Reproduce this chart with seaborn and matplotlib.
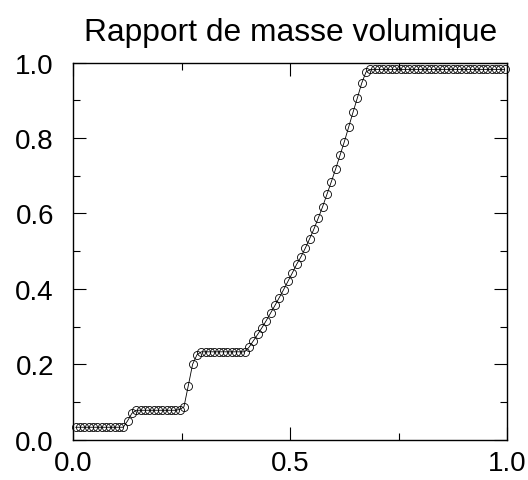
import matplotlib
matplotlib.use("Agg")
import matplotlib.pyplot as plt
import seaborn as sns
import numpy as np
import pandas as pd
from matplotlib.ticker import FixedLocator, FormatStrFormatter

# ---- data (cell centres and density ratio) ----
x_pos = [
    0.005, 0.015, 0.025, 0.035, 0.045, 0.055, 0.065, 0.075, 0.085, 0.095,
    0.105, 0.115, 0.125, 0.135, 0.145, 0.155, 0.165, 0.175, 0.185, 0.195,
    0.205, 0.215, 0.225, 0.235, 0.245, 0.255, 0.265, 0.275, 0.285, 0.295,
    0.305, 0.315, 0.325, 0.335, 0.345, 0.355, 0.365, 0.375, 0.385, 0.395,
    0.405, 0.415, 0.425, 0.435, 0.445, 0.455, 0.465, 0.475, 0.485, 0.495,
    0.505, 0.515, 0.525, 0.535, 0.545, 0.555, 0.565, 0.575, 0.585, 0.595,
    0.605, 0.615, 0.625, 0.635, 0.645, 0.655, 0.665, 0.675, 0.685, 0.695,
    0.705, 0.715, 0.725, 0.735, 0.745, 0.755, 0.765, 0.775, 0.785, 0.795,
    0.805, 0.815, 0.825, 0.835, 0.845, 0.855, 0.865, 0.875, 0.885, 0.895,
    0.905, 0.915, 0.925, 0.935, 0.945, 0.955, 0.965, 0.975, 0.985, 0.995,
]
density_ratio = [
    0.033, 0.033, 0.033, 0.033, 0.033, 0.033, 0.033, 0.033, 0.033, 0.033,
    0.033, 0.033, 0.050, 0.070, 0.078, 0.078, 0.078, 0.078, 0.078, 0.078,
    0.078, 0.078, 0.078, 0.078, 0.080, 0.087, 0.143, 0.200, 0.225, 0.233,
    0.233, 0.233, 0.233, 0.233, 0.233, 0.233, 0.233, 0.233, 0.233, 0.233,
    0.245, 0.262, 0.279, 0.297, 0.316, 0.336, 0.356, 0.377, 0.398, 0.420,
    0.442, 0.465, 0.485, 0.508, 0.533, 0.559, 0.588, 0.618, 0.651, 0.684,
    0.718, 0.754, 0.790, 0.829, 0.868, 0.906, 0.945, 0.975, 0.982, 0.982,
    0.982, 0.982, 0.982, 0.982, 0.982, 0.982, 0.982, 0.982, 0.982, 0.982,
    0.982, 0.982, 0.982, 0.982, 0.982, 0.982, 0.982, 0.982, 0.982, 0.982,
    0.982, 0.982, 0.982, 0.982, 0.982, 0.982, 0.982, 0.982, 0.982, 0.982,
]
title_text = "Rapport de masse volumique"
x_major = [0.0, 0.5, 1.0]
x_minor = [0.25, 0.75]
y_major = [0.0, 0.2, 0.4, 0.6, 0.8, 1.0]
y_minor = [0.1, 0.3, 0.5, 0.7, 0.9]

df = pd.DataFrame({"x": x_pos, "rho": density_ratio})

sns.set_style("ticks")
plt.rcParams["font.family"] = ["Liberation Sans", "DejaVu Sans"]
plt.rcParams["text.color"] = "black"
plt.rcParams["xtick.color"] = "black"
plt.rcParams["ytick.color"] = "black"
plt.rcParams["xtick.labelcolor"] = "black"
plt.rcParams["ytick.labelcolor"] = "black"

fig = plt.figure(figsize=(5.28, 4.81), dpi=100)
ax = fig.add_axes([0.139, 0.0838, 0.821, 0.784])

sns.lineplot(data=df, x="x", y="rho", ax=ax, color="black", linewidth=0.6,
             marker="o", markersize=5.8, markerfacecolor="none",
             markeredgecolor="black", markeredgewidth=0.6, clip_on=False,
             estimator=None, sort=False)

ax.set_xlim(0, 1)
ax.set_ylim(0, 1)
ax.xaxis.set_major_locator(FixedLocator(x_major))
ax.xaxis.set_minor_locator(FixedLocator(x_minor))
ax.yaxis.set_major_locator(FixedLocator(y_major))
ax.yaxis.set_minor_locator(FixedLocator(y_minor))
ax.xaxis.set_major_formatter(FormatStrFormatter("%.1f"))
ax.yaxis.set_major_formatter(FormatStrFormatter("%.1f"))

ax.tick_params(which="both", direction="in", top=True, right=True,
               color="black", labelcolor="black", width=0.8)
ax.tick_params(which="major", length=9.4)
ax.tick_params(which="minor", length=5.0)
ax.tick_params(axis="x", which="major", labelsize=20, pad=7.5)
ax.tick_params(axis="y", which="major", labelsize=20, pad=14)

for s in ax.spines.values():
    s.set_visible(True)
    s.set_color("black")
    s.set_linewidth(1.0)

ax.set_xlabel("")
ax.set_ylabel("")
ax.set_title(title_text, fontsize=22.9, pad=16, color="black")

fig.savefig("out.png", dpi=100)
